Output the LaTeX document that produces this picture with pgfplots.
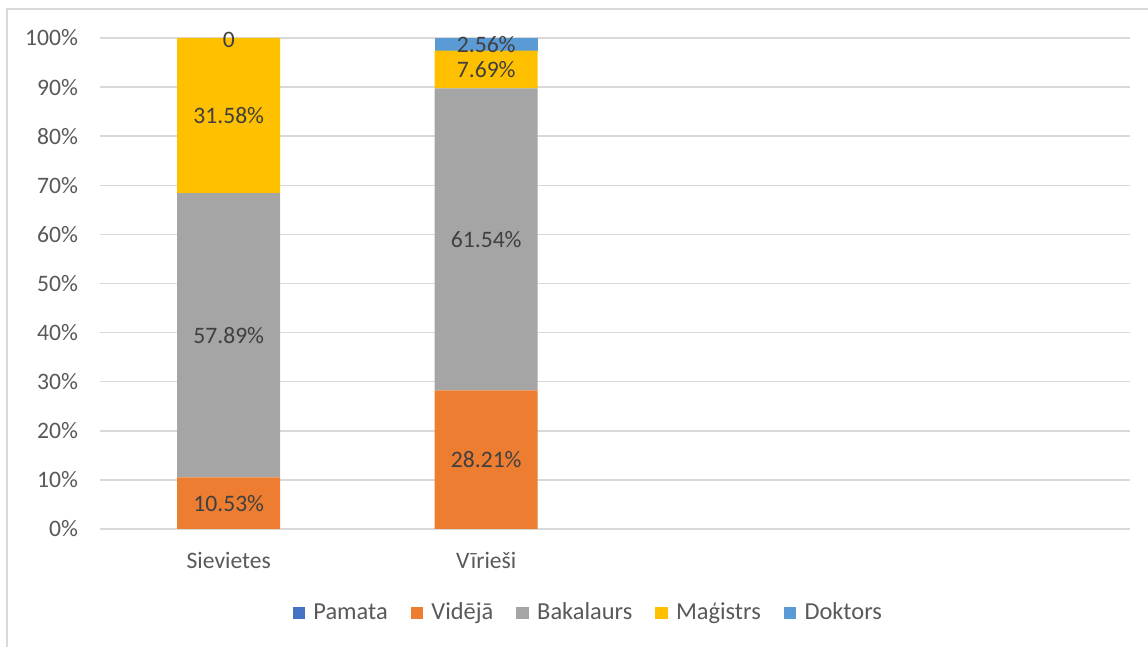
\documentclass[border=0pt]{standalone}
\usepackage{pgfplots}
\pgfplotsset{compat=1.18}
\usepackage{fontspec}
\setmainfont{Carlito}
\definecolor{cPamata}{RGB}{68,114,196}
\definecolor{cVid}{RGB}{237,125,49}
\definecolor{cBak}{RGB}{165,165,165}
\definecolor{cMag}{RGB}{255,192,0}
\definecolor{cDok}{RGB}{91,155,213}
\definecolor{gridgray}{RGB}{217,217,217}
\definecolor{labgray}{RGB}{89,89,89}
\definecolor{datgray}{RGB}{64,64,64}
\newcommand\pct{\%}
\begin{document}
\begin{tikzpicture}[x=1pt,y=1pt]
\begin{axis}[
  scale only axis, width=515pt, height=245.5pt,
  ybar stacked, bar width=0.4,
  xmin=-0.5, xmax=3.5, ymin=0, ymax=100,
  xtick={0,1}, xticklabels={Sievietes,Vīrieši},
  ytick={0,10,...,100},
  yticklabels={0\%,10\%,20\%,30\%,40\%,50\%,60\%,70\%,80\%,90\%,100\%},
  ymajorgrids, grid style={gridgray, line width=0.75pt},
  axis line style={draw=none},
  major tick length=0pt,
  tick label style={font=\fontsize{11.8}{13}\selectfont, text=labgray},
  yticklabel style={xshift=-7.5pt},
  xticklabel style={yshift=-8pt},
  legend columns=-1,
  legend style={draw=none, at={(0.475,-0.171)}, anchor=center,
    font=\fontsize{12.2}{13}\selectfont, text=labgray,
    /tikz/every even column/.append style={column sep=9.5pt},
    /tikz/every odd column/.append style={column sep=2.2pt}},
  legend image code/.code={\fill[#1] (0pt,-3.1pt) rectangle (6.2pt,3.1pt);},
]
\coordinate (LL) at (rel axis cs:0,0);
\addplot[fill=cPamata, draw=none] table[x=x,y=y] {
x y
0 0
1 0
};
\addplot[fill=cVid, draw=none] table[x=x,y=y] {
x y
0 10.53
1 28.21
};
\addplot[fill=cBak, draw=none] table[x=x,y=y] {
x y
0 57.89
1 61.54
};
\addplot[fill=cMag, draw=none] table[x=x,y=y] {
x y
0 31.58
1 7.69
};
\addplot[fill=cDok, draw=none] table[x=x,y=y] {
x y
0 0
1 2.56
};
\legend{Pamata,Vidējā,Bakalaurs,Maģistrs,Doktors}
\end{axis}
\begin{axis}[
  at={(LL)}, anchor=south west,
  scale only axis, width=515pt, height=245.5pt,
  xmin=-0.5, xmax=3.5, ymin=0, ymax=100,
  hide axis, clip=false,
]
\addplot[draw=none, mark=none, nodes near coords, point meta=explicit symbolic,
  every node near coord/.style={font=\fontsize{11.8}{13}\selectfont, text=datgray, anchor=center}]
  table[x=x,y=y,meta=l] {
x y l
0 5.265 10.53\pct
0 39.475 57.89\pct
0 84.21 31.58\pct
0 99.7 0
1 14.105 28.21\pct
1 58.975 61.54\pct
1 93.595 7.69\pct
1 98.6 2.56\pct
};
\end{axis}
\pgfresetboundingbox
\useasboundingbox ([shift={(-50pt,-59pt)}]LL) rectangle ([shift={(524pt,264.5pt)}]LL);
\draw[gridgray, line width=0.8pt] ([shift={(-46.5pt,-80pt)}]LL) -- ([shift={(-46.5pt,260pt)}]LL) -- ([shift={(560pt,260pt)}]LL);
\end{tikzpicture}
\end{document}
